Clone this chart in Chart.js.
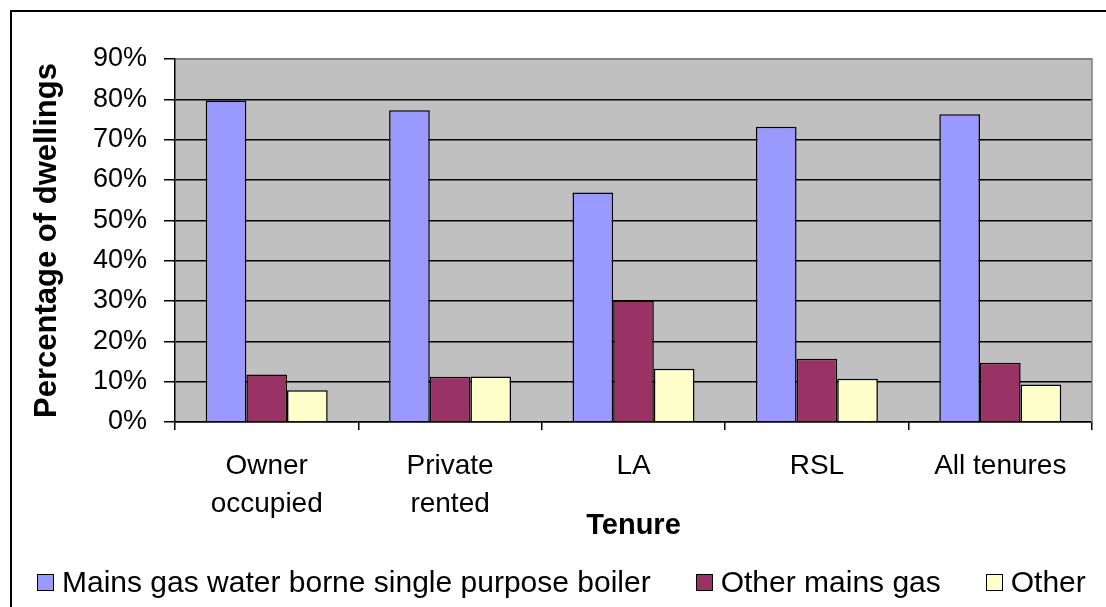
<!DOCTYPE html>
<html>
<head>
<meta charset="utf-8">
<script src="https://cdn.jsdelivr.net/npm/chart.js@4/dist/chart.umd.min.js"></script>
<style>
  html, body { margin: 0; padding: 0; background: #fff; }
  #wrap { width: 1106px; height: 607px; position: relative; }
  #legend {
      position: absolute; left: 37px; top: 567px; height: 30px;
      display: flex; align-items: center;
      font-family: "Liberation Sans", Arial, sans-serif; font-size: 30px; line-height: 30px; color: #000;
      white-space: nowrap;
  }
  #legend .item { display: flex; align-items: center; }
  #legend .item + .item { margin-left: 45px; }
  #legend .box { width: 17px; height: 17px; box-sizing: border-box; border: 1.5px solid #000; margin-right: 8px; }
</style>
</head>
<body>
<div id="wrap">
  <canvas id="tenure-chart"></canvas>
  <div id="legend"></div>
</div>
<script>
// Values (percent of dwellings)
const tenures = [['Owner', 'occupied'], ['Private', 'rented'], 'LA', 'RSL', 'All tenures'];
const mainsGasBoiler = [79.7, 77.3, 56.9, 73.2, 76.3];
const otherMainsGas = [11.8, 11.2, 30.1, 15.7, 14.7];
const otherHeating = [7.9, 11.3, 13.2, 10.7, 9.3];
const seriesNames = ['Mains gas water borne single purpose boiler', 'Other mains gas', 'Other'];
const seriesColors = ['#9999FF', '#993366', '#FFFFCC'];
const yTicks = [0, 10, 20, 30, 40, 50, 60, 70, 80, 90];

const FONT = '"Liberation Sans", Arial, sans-serif';

// grey plot area, grey plot frame and the black outer frame
const plotFrame = {
    id: 'plotFrame',
    beforeDraw(chart) {
        const { ctx, chartArea: a } = chart;
        ctx.save();
        ctx.fillStyle = '#ffffff';
        ctx.fillRect(0, 0, chart.width, chart.height);
        ctx.fillStyle = '#C0C0C0';
        ctx.fillRect(a.left, a.top, a.right - a.left, a.bottom - a.top);
        ctx.restore();
    },
    afterDraw(chart) {
        const { ctx, chartArea: a } = chart;
        ctx.save();
        ctx.strokeStyle = '#808080';
        ctx.lineWidth = 1.5;
        ctx.beginPath();
        ctx.moveTo(a.left + 1, a.top);
        ctx.lineTo(a.right, a.top);
        ctx.lineTo(a.right, a.bottom);
        ctx.stroke();
        ctx.strokeStyle = '#000';
        ctx.lineWidth = 2;
        ctx.beginPath();
        ctx.moveTo(11, chart.height);
        ctx.lineTo(11, 11);
        ctx.lineTo(chart.width, 11);
        ctx.stroke();
        ctx.restore();
    }
};

const barStyle = { borderColor: '#000', borderWidth: 1.5, categoryPercentage: 0.665, barPercentage: 1.0 };
const seriesData = [mainsGasBoiler, otherMainsGas, otherHeating];

const chart = new Chart(document.getElementById('tenure-chart'), {
    type: 'bar',
    data: {
        labels: tenures,
        datasets: seriesData.map((data, i) => ({
            label: seriesNames[i], data, backgroundColor: seriesColors[i], ...barStyle
        }))
    },
    options: {
        responsive: true,
        maintainAspectRatio: false,
        animation: false,
        layout: { padding: { top: 59, right: 14, left: 0, bottom: 80 } },
        plugins: {
            tooltip: { enabled: false },
            legend: { display: false }
        },
        scales: {
            x: {
                offset: true,
                afterFit: s => { s.height = 105; },
                grid: { display: true, offset: true, drawOnChartArea: false, tickLength: 8, color: '#000', lineWidth: 1.5 },
                border: { display: true, color: '#000', width: 1.5 },
                ticks: {
                    color: '#000',
                    padding: 17,
                    maxRotation: 0,
                    autoSkip: false,
                    font: { family: FONT, size: 28, lineHeight: 1.36 }
                },
                title: {
                    display: true,
                    text: 'Tenure',
                    color: '#000',
                    font: { family: FONT, size: 29, weight: 'bold' },
                    padding: { top: 0, bottom: -16 }
                }
            },
            y: {
                min: 0,
                max: 90,
                afterFit: s => { s.width = 175; },
                afterBuildTicks: s => { s.ticks = yTicks.map(v => ({ value: v })); },
                grid: {
                    color: c => (c.tick && c.tick.value === 90 ? '#808080' : '#000'),
                    tickColor: '#000',
                    tickLength: 11,
                    lineWidth: 1.5
                },
                border: { display: true, color: '#000', width: 1.5 },
                ticks: {
                    color: '#000',
                    padding: 17,
                    font: { family: FONT, size: 27 },
                    callback: v => v + '%'
                },
                title: {
                    display: true,
                    text: 'Percentage of dwellings',
                    color: '#000',
                    font: { family: FONT, size: 31, weight: 'bold' },
                    padding: { top: 29, bottom: 0 }
                }
            }
        }
    },
    plugins: [plotFrame]
});

// legend drawn as html below the plot, built from the same series arrays
document.getElementById('legend').innerHTML = chart.data.datasets.map(ds =>
    `<span class="item"><span class="box" style="background:${ds.backgroundColor}"></span>${ds.label}</span>`
).join('');
</script>
</body>
</html>
